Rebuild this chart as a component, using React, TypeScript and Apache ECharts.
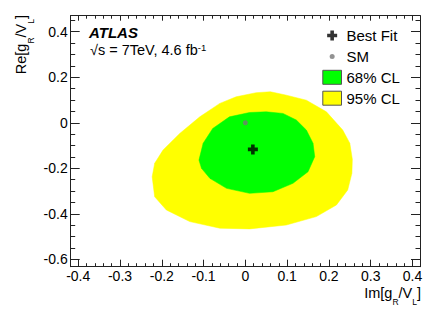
import React, { useEffect, useRef } from "react";
import * as echarts from "echarts";

// Axis ranges (frame edges)
const xRange = [-0.418, 0.418];
const yRange = [-0.632, 0.47];

// 95% CL contour (Im, Re)
const contour95: number[][] = [
  [-0.022, 0.114], [0.026, 0.132], [0.06, 0.136], [0.096, 0.122], [0.146, 0.099],
  [0.194, 0.048], [0.233, -0.032], [0.25, -0.09], [0.256, -0.16], [0.255, -0.222],
  [0.245, -0.295], [0.218, -0.361], [0.17, -0.412], [0.098, -0.449], [0.01, -0.466],
  [-0.061, -0.463], [-0.133, -0.434], [-0.189, -0.383], [-0.217, -0.325], [-0.223, -0.237],
  [-0.217, -0.178], [-0.197, -0.12], [-0.157, -0.047], [-0.109, 0.026], [-0.061, 0.085],
];

// 68% CL contour (Im, Re)
const contour68: number[][] = [
  [0.01, 0.045], [0.05, 0.048], [0.09, 0.041], [0.122, 0.012], [0.146, -0.032],
  [0.162, -0.09], [0.166, -0.149], [0.15, -0.215], [0.114, -0.266], [0.066, -0.303],
  [0.01, -0.31], [-0.045, -0.288], [-0.085, -0.244], [-0.105, -0.2], [-0.111, -0.164],
  [-0.101, -0.09], [-0.078, -0.025], [-0.038, 0.026],
];

const bestFit: number[][] = [[0.018, -0.117]];
const smPoint: number[][] = [[0, 0]];

// axis titles: [text, isSubscript]
const xTitleParts: [string, boolean][] = [["Im[g", false], ["R", true], ["/V", false], ["L", true], ["]", false]];
const yTitleParts: [string, boolean][] = [["Re[g", false], ["R", true], ["/V", false], ["L", true], ["]", false]];

const crossPath =
  "path://M3.2,0 L6.8,0 L6.8,3.2 L10,3.2 L10,6.8 L6.8,6.8 L6.8,10 L3.2,10 L3.2,6.8 L0,6.8 L0,3.2 L3.2,3.2 Z";
// legend icons padded to the 18.7 x 14 legend box
const crossIcon =
  "path://M0,0 M18.7,14 M7.55,2 L11.15,2 L11.15,5.2 L14.35,5.2 L14.35,8.8 L11.15,8.8 L11.15,12 L7.55,12 L7.55,8.8 L4.35,8.8 L4.35,5.2 L7.55,5.2 Z";
const dotIcon =
  "path://M0,0 M18.7,14 M6.85,7 A2.5,2.5 0 1,0 11.85,7 A2.5,2.5 0 1,0 6.85,7 Z";

const FONT = "'Liberation Sans', Arial, Helvetica, sans-serif";
const MAIN_FS = 14.5;
const SUB_FS = 8.5;
const SUB_DROP = 9.5;

export default function App() {
  const ref = useRef<HTMLDivElement>(null);

  useEffect(() => {
    document.body.style.margin = "0";
    const chart = echarts.init(ref.current!, null, { renderer: "svg" });

    const ctx = document.createElement("canvas").getContext("2d")!;
    const measure = (t: string, fs: number) => {
      ctx.font = `${fs}px ${FONT}`;
      return ctx.measureText(t).width;
    };
    const buildTitle = (parts: [string, boolean][]) => {
      let x = 0;
      const children: any[] = [];
      for (const [t, sub] of parts) {
        const fs = sub ? SUB_FS : MAIN_FS;
        children.push({
          type: "text",
          x,
          y: sub ? SUB_DROP : 0,
          style: {
            text: t,
            fontSize: fs,
            fontFamily: FONT,
            fill: "#000",
            align: "left",
            verticalAlign: "middle",
            lineHeight: sub ? 7 : 11,
          },
        });
        x += measure(t, fs);
      }
      return { children, width: x };
    };
    const xt = buildTitle(xTitleParts);
    const yt = buildTitle(yTitleParts);

    const lineColor = "#222";
    const mkX = (pos: "bottom" | "top") => ({
      type: "value",
      position: pos,
      min: xRange[0],
      max: xRange[1],
      splitNumber: 8,
      axisLine: { show: true, onZero: false, lineStyle: { color: lineColor, width: 1 } },
      axisTick: { show: true, inside: true, length: pos === "bottom" ? 7 : 5, lineStyle: { color: lineColor, width: 1 } },
      minorTick: { show: true, splitNumber: 5, length: pos === "bottom" ? 3.5 : 3, lineStyle: { color: lineColor, width: 1 } },
      splitLine: { show: false },
      minorSplitLine: { show: false },
      axisLabel: {
        show: pos === "bottom",
        margin: 2,
        fontSize: 14,
        lineHeight: 14,
        color: "#000",
        fontFamily: FONT,
        showMinLabel: false,
        showMaxLabel: false,
        hideOverlap: false,
      },
    });
    const mkY = (pos: "left" | "right") => ({
      type: "value",
      position: pos,
      min: yRange[0],
      max: yRange[1],
      splitNumber: 5,
      axisLine: { show: true, onZero: false, lineStyle: { color: lineColor, width: 1 } },
      axisTick: { show: true, inside: true, length: 9, lineStyle: { color: lineColor, width: 1 } },
      minorTick: { show: true, splitNumber: 4, length: 4.5, lineStyle: { color: lineColor, width: 1 } },
      splitLine: { show: false },
      minorSplitLine: { show: false },
      axisLabel: {
        show: pos === "left",
        margin: 3,
        fontSize: 14,
        color: "#000",
        fontFamily: FONT,
        showMinLabel: false,
        showMaxLabel: false,
        hideOverlap: false,
      },
    });

    const polySeries = (name: string, pts: number[][], color: string, z: number) => ({
      type: "custom",
      name,
      coordinateSystem: "cartesian2d",
      xAxisIndex: 0,
      yAxisIndex: 0,
      data: [[0, 0]],
      clip: false,
      silent: true,
      z,
      itemStyle: { color },
      renderItem: (_params: any, api: any) => ({
        type: "polygon",
        shape: { points: pts.map((p) => api.coord(p)) },
        style: { fill: color, stroke: color, lineWidth: 0.5 },
      }),
    });

    chart.setOption({
      animation: false,
      backgroundColor: "#fff",
      grid: { left: 70.7, top: 15.7, width: 349.3, height: 251, containLabel: false, outerBoundsMode: "none" },
      xAxis: [mkX("bottom"), mkX("top")],
      yAxis: [mkY("left"), mkY("right")],
      legend: {
        data: [
          { name: "Best Fit", icon: crossIcon, itemStyle: { color: "#000", borderWidth: 0 } },
          { name: "SM", icon: dotIcon, itemStyle: { color: "#777", borderWidth: 0 } },
          { name: "68% CL", icon: "rect", itemStyle: { color: "#00ff00", borderColor: "#555", borderWidth: 1 } },
          { name: "95% CL", icon: "rect", itemStyle: { color: "#ffff00", borderColor: "#555", borderWidth: 1 } },
        ],
        orient: "vertical",
        left: 322.3,
        top: 28,
        itemWidth: 18.7,
        itemHeight: 14,
        itemGap: 5.9,
        padding: 0,
        selectedMode: false,
        textStyle: { fontSize: 15, fontFamily: FONT, color: "#000", lineHeight: 14 },
      },
      series: [
        polySeries("95% CL", contour95, "#ffff00", 1),
        polySeries("68% CL", contour68, "#00ff00", 2),
        {
          type: "scatter",
          name: "SM",
          data: smPoint,
          symbol: "circle",
          symbolSize: 5,
          itemStyle: { color: "#777" },
          z: 3,
          silent: true,
        },
        {
          type: "scatter",
          name: "Best Fit",
          data: bestFit,
          symbol: crossPath,
          symbolSize: 10,
          itemStyle: { color: "#000" },
          z: 4,
          silent: true,
        },
      ],
      graphic: [
        {
          type: "text",
          x: 89,
          y: 32,
          style: {
            text: "ATLAS",
            fontSize: 15,
            fontWeight: "bold",
            fontStyle: "italic",
            fontFamily: FONT,
            fill: "#000",
            verticalAlign: "middle",
          },
        },
        {
          type: "text",
          x: 90,
          y: 50,
          style: {
            text: "{a|√s = 7TeV, 4.6 fb}{b|-1}",
            verticalAlign: "middle",
            rich: {
              a: { fontSize: 14.5, fontFamily: FONT, color: "#000", lineHeight: 16 },
              b: { fontSize: 9.5, fontFamily: FONT, color: "#000", lineHeight: 6, verticalAlign: "top" },
            },
          },
        },
        {
          type: "group",
          x: 421 - xt.width,
          y: 292.5,
          children: xt.children,
        },
        {
          type: "group",
          x: 21,
          y: 15 + yt.width,
          rotation: Math.PI / 2,
          children: yt.children,
        },
      ],
    });

    return () => chart.dispose();
  }, []);

  return (
    <div
      ref={ref}
      style={{ position: "fixed", left: 0, top: 0, width: 443, height: 318, background: "#fff" }}
    />
  );
}
